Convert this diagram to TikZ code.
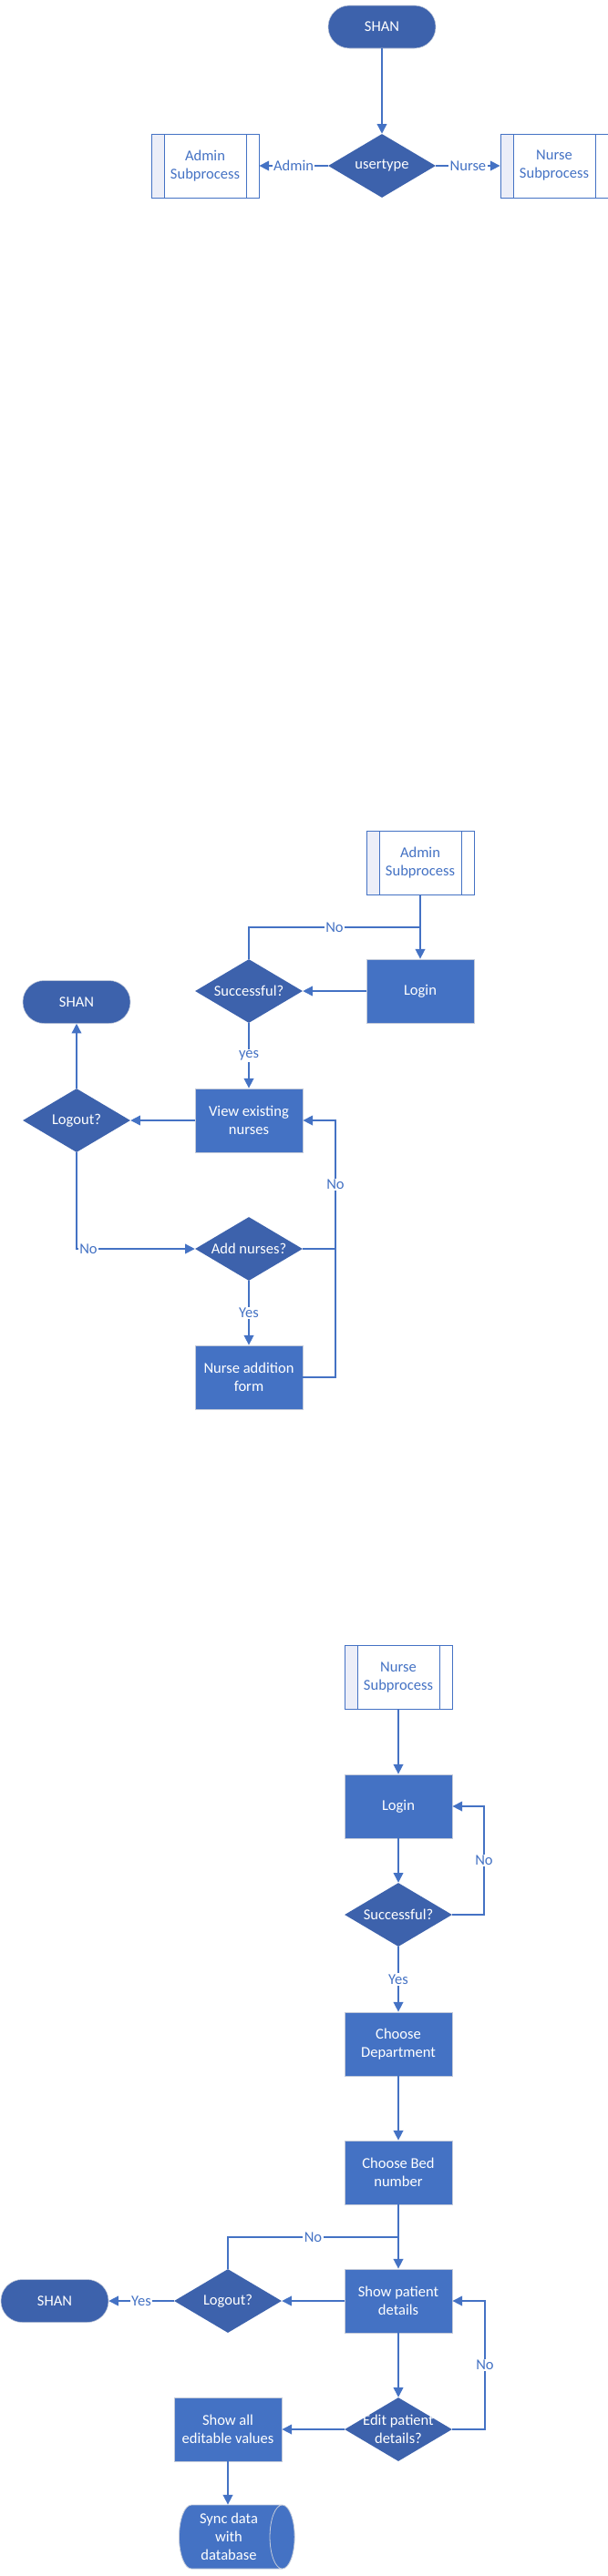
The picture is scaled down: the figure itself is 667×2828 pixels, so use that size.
\documentclass[tikz,border=0pt]{standalone}
\usepackage{fontspec}
\setmainfont{Carlito}
\usetikzlibrary{shapes.geometric,arrows.meta}
\definecolor{lineblue}{HTML}{4472C4}
\definecolor{dkblue}{HTML}{3D62AC}
\definecolor{boxborder}{HTML}{C3CAD9}
\definecolor{stripcol}{HTML}{ECEEF8}
\begin{document}
\begin{tikzpicture}[x=0.75pt,y=-0.75pt,
  font=\fontsize{12.4}{15}\selectfont,
  term/.style={rectangle, rounded corners=17.5pt, fill=dkblue, draw=boxborder, line width=0.4pt, text=white, minimum width=88.5pt, minimum height=35.25pt, inner sep=0pt},
  proc/.style={rectangle, fill=lineblue, draw=boxborder, line width=0.6pt, text=white, minimum width=88.5pt, minimum height=52.5pt, align=center, inner sep=2pt},
  dec/.style={diamond, fill=dkblue, minimum width=88.5pt, minimum height=52.5pt, inner sep=0pt},
  dtext/.style={text=white, align=center, inner sep=0pt},
  subp/.style={rectangle, fill=white, draw=lineblue, line width=0.6pt, text=lineblue, minimum width=88.5pt, minimum height=52.5pt, align=center, inner sep=2pt,
    path picture={
      \fill[stripcol] (path picture bounding box.north west) rectangle ([xshift=10.5pt]path picture bounding box.south west);
      \draw[lineblue, line width=0.6pt] ([xshift=10.5pt]path picture bounding box.north west) -- ([xshift=10.5pt]path picture bounding box.south west);
      \draw[lineblue, line width=0.6pt] ([xshift=-10.5pt]path picture bounding box.north east) -- ([xshift=-10.5pt]path picture bounding box.south east);
    }},
  dbase/.style={cylinder, shape border rotate=0, shape aspect=0.5, cylinder uses custom fill, cylinder body fill=lineblue, cylinder end fill=lineblue, draw=boxborder, line width=0.6pt, text=white, minimum width=52.5pt, minimum height=95pt, align=center, inner sep=1pt},
  conn/.style={draw=lineblue, line width=1.1pt},
  arr/.style={conn, -{Triangle[length=8pt,width=8pt]}},
  elab/.style={fill=white, text=lineblue, inner sep=1pt},
]
\useasboundingbox (0,0) rectangle (667,2828);

% ---------- Section 1 ----------
\node[term] (shan1) at (419,29.5) {SHAN};
\node[dec, label={[dtext]center:usertype}] (ut) at (419,182) {};
\node[subp] (adm1) at (225,182) {Admin\\Subprocess};
\node[subp] (nur1) at (608,182) {Nurse\\Subprocess};
\draw[arr] (shan1) -- (ut);
\draw[arr] (ut) -- node[elab]{Admin} (adm1);
\draw[arr] (ut) -- node[elab]{Nurse} (nur1);

% ---------- Section 2 ----------
\node[subp] (adm2) at (461,947) {Admin\\Subprocess};
\node[proc] (login1) at (461,1088) {Login};
\node[dec, label={[dtext]center:Successful?}] (succ1) at (273,1088) {};
\node[term] (shan2) at (84,1100) {SHAN};
\node[proc] (view) at (273,1230) {View existing\\nurses};
\node[dec, label={[dtext]center:Logout?}] (logout1) at (84,1230) {};
\node[dec, label={[dtext]center:Add nurses?}] (add) at (273,1371) {};
\node[proc] (form) at (273,1512) {Nurse addition\\form};
\coordinate (j1) at (461,1018);
\coordinate (r1) at (368,1371);
\coordinate (r2) at (368,1230);
\draw[arr] (adm2) -- (login1);
\draw[arr] (login1) -- (succ1);
\draw[conn] (succ1.north) |- node[elab, pos=0.75]{No} (j1);
\draw[arr] (succ1) -- node[elab]{yes} (view);
\draw[arr] (view) -- (logout1);
\draw[arr] (logout1) -- (shan2);
\draw[arr] (logout1.south) |- node[elab, pos=0.55]{No} (add.west);
\draw[arr] (add) -- node[elab]{Yes} (form);
\draw[arr] (add.east) -- (r1) -- node[elab]{No} (r2) -- (view.east);
\draw[conn] (form.east) -| (r1);

% ---------- Section 3 ----------
\node[subp] (nur2) at (437,1841.5) {Nurse\\Subprocess};
\node[proc] (login2) at (437,1983) {Login};
\node[dec, label={[dtext]center:Successful?}] (succ2) at (437,2102) {};
\node[proc] (dept) at (437,2244) {Choose\\Department};
\node[proc] (bed) at (437,2385) {Choose Bed\\number};
\node[proc] (show) at (437,2526) {Show patient\\details};
\node[dec, label={[dtext]center:Logout?}] (logout2) at (250,2526) {};
\node[term] (shan3) at (60,2526) {SHAN};
\node[dec, label={[dtext]center:Edit patient\\details?}] (edit) at (437,2667) {};
\node[proc] (editable) at (250,2667) {Show all\\editable values};
\node[dbase] (sync) at (251,2785) {Sync data\\with\\database};
\coordinate (r3) at (531,2102);
\coordinate (r4) at (531,1983);
\coordinate (j2) at (437,2456);
\coordinate (r5) at (532,2667);
\coordinate (r6) at (532,2526);
\draw[arr] (nur2) -- (login2);
\draw[arr] (login2) -- (succ2);
\draw[arr] (succ2.east) -- (r3) -- node[elab]{No} (r4) -- (login2.east);
\draw[arr] (succ2) -- node[elab]{Yes} (dept);
\draw[arr] (dept) -- (bed);
\draw[arr] (bed) -- (show);
\draw[conn] (logout2.north) |- node[elab, pos=0.75]{No} (j2);
\draw[arr] (show) -- (logout2);
\draw[arr] (logout2) -- node[elab]{Yes} (shan3);
\draw[arr] (show) -- (edit);
\draw[arr] (edit.east) -- (r5) -- node[elab]{No} (r6) -- (show.east);
\draw[arr] (edit) -- (editable);
\draw[arr] (editable.south) -- (editable.south |- sync.north);
\end{tikzpicture}
\end{document}
